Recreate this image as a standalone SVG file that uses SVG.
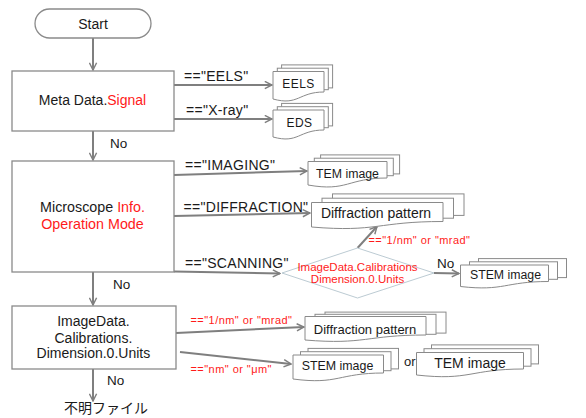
<svg xmlns="http://www.w3.org/2000/svg" width="586" height="418" viewBox="0 0 586 418">
<style>
text{font-family:"Liberation Sans",Arial,"Noto Sans CJK JP",sans-serif;fill:#1a1a1a}
.box{fill:#fff;stroke:#8a8a8a;stroke-width:1.3}
.doc{fill:#fff;stroke:#8a8a8a;stroke-width:1}
.con{fill:none;stroke:#7f7f7f;stroke-width:2;marker-end:url(#arr)}
.lbl{font-size:14px;letter-spacing:0.3px}
.red{fill:#ff1a1a}
.rl{font-size:11px;letter-spacing:0.45px;fill:#ff1a1a}
.mid{text-anchor:middle}
</style>
<defs>
<marker id="arr" viewBox="0 0 10 10" refX="9" refY="5" markerWidth="9" markerHeight="9" markerUnits="userSpaceOnUse" orient="auto">
<path d="M1,1 L9,5 L1,9" fill="none" stroke="#7f7f7f" stroke-width="1.6"/>
</marker>
</defs>

<g id="connectors">
<path class="con" d="M93,38 V70"/>
<path class="con" d="M93,131 V160"/>
<path class="con" d="M93,272 V305"/>
<path class="con" d="M93,369 V401"/>
<path class="con" d="M174,85 L272,85"/>
<path class="con" d="M174,119 L272,119"/>
<path class="con" d="M174,175 L307,171"/>
<path class="con" d="M174,216 L310,213"/>
<path class="con" d="M174,271.5 L280,273.5"/>
<path class="con" d="M357.5,248 L377,226.5"/>
<path class="con" d="M434,273 L459,273.5"/>
<path class="con" d="M176,333 L304,327"/>
<path class="con" d="M180,352 L291,364"/>
<text class="lbl" x="184" y="81">=="EELS"</text>
<text class="lbl" x="186" y="115">=="X-ray"</text>
<text class="lbl" x="185" y="170">=="IMAGING"</text>
<text class="lbl" x="183.5" y="212">=="DIFFRACTION"</text>
<text class="lbl" x="185" y="268">=="SCANNING"</text>
<text class="rl" x="368.5" y="244">=="1/nm" or "mrad"</text>
<text class="rl" x="190.5" y="324">=="1/nm" or "mrad"</text>
<text class="rl" x="190.5" y="373">=="nm" or "μm"</text>
<text style="font-size:13.5px" x="110" y="148">No</text>
<text style="font-size:13.5px" x="113" y="289">No</text>
<text style="font-size:13.5px" x="107" y="385">No</text>
<text style="font-size:13.5px" x="437" y="267.5">No</text>
<text style="font-size:13px" x="404" y="366">or</text>
</g>

<g id="start">
<rect class="box" x="35" y="9" width="116" height="29" rx="14.5"/>
<text class="mid" x="93" y="29" style="font-size:14px">Start</text>
</g>

<g id="meta">
<rect class="box" x="12" y="71" width="162" height="60"/>
<text class="mid" x="92.5" y="105" style="font-size:14px">Meta Data.<tspan class="red">Signal</tspan></text>
</g>

<g id="microscope">
<rect class="box" x="12" y="161" width="162" height="111"/>
<text class="mid" x="92.5" y="212.3" style="font-size:14.3px">Microscope <tspan class="red">Info.</tspan></text>
<text class="mid red" x="92.5" y="229" style="font-size:14.3px">Operation Mode</text>
</g>

<g id="imagedata">
<rect class="box" x="12" y="306" width="164" height="63"/>
<text class="mid" x="93.4" y="326" style="font-size:14px">ImageData.</text>
<text class="mid" x="93.4" y="342.5" style="font-size:14px">Calibrations.</text>
<text class="mid" x="93.4" y="358" style="font-size:14px">Dimension.0.Units</text>
</g>

<g id="decision">
<polygon points="282,273 357.5,248 434,273 357.5,298" fill="#fff" stroke="#bccbd3" stroke-width="1"/>
<text class="mid red" x="357.5" y="271" style="font-size:11.5px">ImageData.Calibrations</text>
<text class="mid red" x="357.5" y="283" style="font-size:11.5px">Dimension.0.Units</text>
</g>

<g id="eels">
<rect class="doc" x="281.6" y="64.9" width="51" height="23"/>
<rect class="doc" x="277.3" y="68.2" width="51" height="21.5"/>
<path class="doc" d="M273,71.5 H324 V92 C298.5,92 298.5,106 273,99 Z"/>
<text class="mid" x="298.5" y="87.5" style="font-size:12px;letter-spacing:0.4px">EELS</text>
</g>

<g id="eds">
<rect class="doc" x="281.6" y="103.4" width="51" height="22.5"/>
<rect class="doc" x="277.3" y="106.7" width="51" height="21"/>
<path class="doc" d="M273,110 H324 V130 C298.5,130 298.5,144 273,137 Z"/>
<text class="mid" x="299.5" y="126.5" style="font-size:12px;letter-spacing:0.4px">EDS</text>
</g>

<g id="tem1">
<rect class="doc" x="320.6" y="154.9" width="79" height="19"/>
<rect class="doc" x="314.3" y="158.2" width="79" height="17.5"/>
<path class="doc" d="M308,161.5 H387 V178 C347.5,178 347.5,192 308,185 Z"/>
<text class="mid" x="347.5" y="177.5" style="font-size:12.3px">TEM image</text>
</g>

<g id="diff1">
<rect class="doc" x="332.5" y="193.9" width="131.5" height="21.5"/>
<rect class="doc" x="322" y="198.2" width="131.5" height="20"/>
<path class="doc" d="M311.5,202.5 H443 V221.5 C377.25,221.5 377.25,232.5 311.5,227 Z"/>
<text class="mid" x="376" y="218" style="font-size:14px">Diffraction pattern</text>
</g>

<g id="stem1">
<rect class="doc" x="478.5" y="258.6" width="88" height="19"/>
<rect class="doc" x="469.5" y="261.8" width="88" height="17.5"/>
<path class="doc" d="M460.5,265 H548.5 V281.5 C504.5,281.5 504.5,291.5 460.5,286.5 Z"/>
<text class="mid" x="505.5" y="279.3" style="font-size:12.3px">STEM image</text>
</g>

<g id="diff2">
<rect class="doc" x="325" y="312.1" width="121" height="21"/>
<rect class="doc" x="315" y="314.3" width="121" height="20"/>
<path class="doc" d="M305,316.5 H426 V335 C365.5,335 365.5,345 305,340 Z"/>
<text class="mid" x="365" y="333.7" style="font-size:13px">Diffraction pattern</text>
</g>

<g id="stem2">
<rect class="doc" x="308" y="348.4" width="90.5" height="20.5"/>
<rect class="doc" x="300.5" y="351.7" width="90.5" height="19"/>
<path class="doc" d="M293,355 H383.5 V373 C338.25,373 338.25,385 293,379 Z"/>
<text class="mid" x="337.5" y="370.4" style="font-size:12.4px">STEM image</text>
</g>

<g id="tem2">
<rect class="doc" x="431.5" y="344.9" width="107" height="19"/>
<rect class="doc" x="424" y="348.7" width="107" height="17.5"/>
<path class="doc" d="M416.5,352.5 H523.5 V369 C470,369 470,381 416.5,375 Z"/>
<text class="mid" x="470" y="367.7" style="font-size:14px">TEM image</text>
</g>

<g id="unknown">
<text x="64" y="413" style="font-size:14px;font-family:'Noto Sans CJK JP','Liberation Sans',sans-serif">不明ファイル</text>
</g>
</svg>
